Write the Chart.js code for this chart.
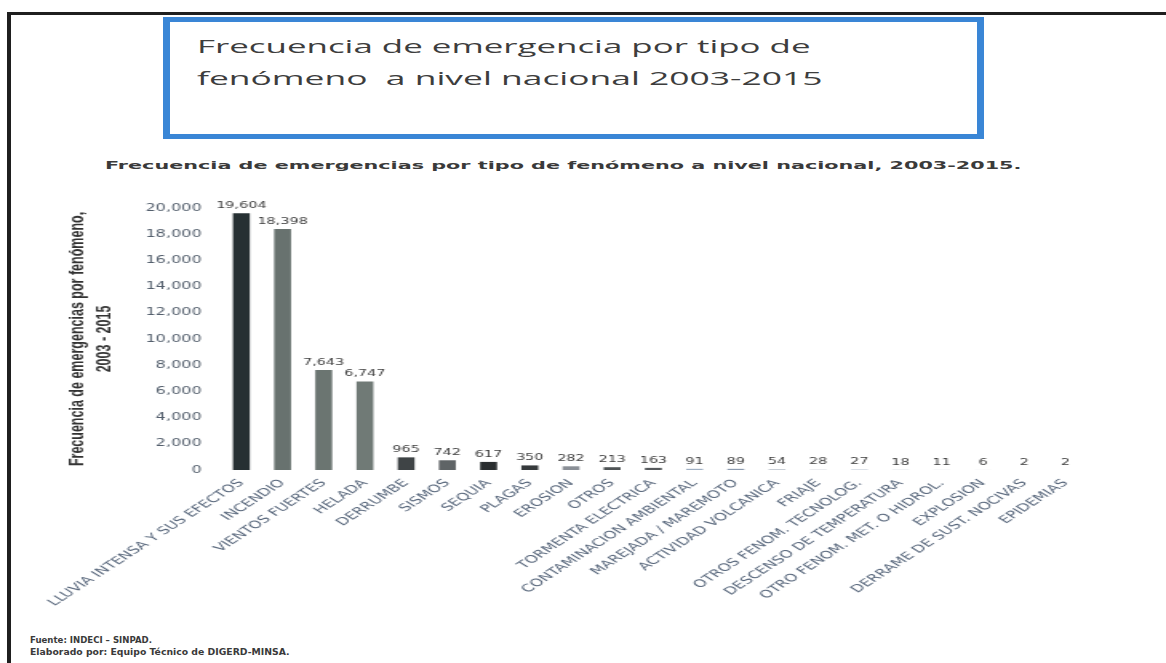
<!DOCTYPE html>
<html>
<head>
<meta charset="utf-8">
<script src="https://cdn.jsdelivr.net/npm/chart.js@4.4.1/dist/chart.umd.min.js"></script>
<style>
html,body{margin:0;padding:0;background:#fff;width:1166px;height:663px;overflow:hidden;position:relative}
#frameTop{position:absolute;left:7px;top:12px;width:1159px;height:3px;background:#1f1f1f}
#frameLeft{position:absolute;left:7px;top:12px;width:4px;height:651px;background:#1f1f1f}
#box{position:absolute;left:163px;top:17px;width:807px;height:112px;border-style:solid;border-color:#3a86d6;border-width:5px 7px}
.txt{position:absolute;left:0;top:0;white-space:nowrap;line-height:1;transform-origin:0 0}
#t1,#t2{font-family:"Open Sans";font-size:19px;color:#3d3d3d}
#sub{font-family:"DejaVu Sans";font-weight:bold;font-size:11px;color:#3a3a3a}
#f1,#f2{font-family:"DejaVu Sans";font-weight:bold;font-size:9px;color:#3a3a3a}
#wrap{position:absolute;left:0;top:0;width:729px;height:663px;transform-origin:0 0}
</style>
</head>
<body>
<div id="frameTop"></div>
<div id="frameLeft"></div>
<div id="box"></div>
<div class="txt" id="t1">Frecuencia de emergencia por tipo de</div>
<div class="txt" id="t2">fenómeno&nbsp; a nivel nacional 2003-2015</div>
<div class="txt" id="sub">Frecuencia de emergencias por tipo de fenómeno a nivel nacional, 2003-2015.</div>
<div class="txt" id="f1">Fuente: INDECI – SINPAD.</div>
<div class="txt" id="f2">Elaborado por: Equipo Técnico de DIGERD-MINSA.</div>
<div id="wrap"><canvas id="c" width="729" height="663"></canvas></div>
<script>
// ---- data ----
const categories = [
  'LLUVIA INTENSA Y SUS EFECTOS', 'INCENDIO', 'VIENTOS FUERTES', 'HELADA', 'DERRUMBE',
  'SISMOS', 'SEQUIA', 'PLAGAS', 'EROSION', 'OTROS', 'TORMENTA ELECTRICA',
  'CONTAMINACION AMBIENTAL', 'MAREJADA / MAREMOTO', 'ACTIVIDAD VOLCANICA', 'FRIAJE',
  'OTROS FENOM. TECNOLOG.', 'DESCENSO DE TEMPERATURA', 'OTRO FENOM. MET. O HIDROL.',
  'EXPLOSION', 'DERRAME DE SUST. NOCIVAS', 'EPIDEMIAS'
];
const emergencias = [19604, 18398, 7643, 6747, 965, 742, 617, 350, 282, 213, 163, 91, 89, 54, 28, 27, 18, 11, 6, 2, 2];
const yAxisTitle = ['Frecuencia de emergencias por fenómeno,', '2003 - 2015'];
const yMin = 0, yMax = 20000, yStep = 2000;
const barColors = ['#263033','#68726f','#6b7571','#707a76','#3f4446','#5f6466','#2a2e30','#363a3c',
  '#8a8f96','#4f5456','#55595c','#9fb0c4','#8c9bb0','#b0b8c4','#c8ccd2','#9aa8bc','#c0c6ce',
  '#c6ccd4','#c6ccd4','#a8b2c0','#c0c6ce'];

// ---- layout helpers for html text ----
const S = 1166 / 729;
document.getElementById('wrap').style.transform = 'scaleX(' + S + ')';
function place(id, x, baseline, width) {
  const el = document.getElementById(id);
  const probe = document.createElement('span');
  probe.style.cssText = 'display:inline-block;width:0;height:0;vertical-align:baseline';
  el.appendChild(probe);
  const b = probe.offsetTop;
  const w = el.offsetWidth;
  el.style.left = x + 'px';
  el.style.top = (baseline - b) + 'px';
  el.style.transform = 'scaleX(' + (width / w) + ')';
}

function draw() {
  place('t1', 197, 53, 613);
  place('t2', 197, 85, 626);
  place('sub', 105, 169, 916);
  place('f1', 30, 643, 122);
  place('f2', 30, 655, 260);

  const valueLabels = {
    id: 'valueLabels',
    afterDatasetsDraw(chart) {
      const ctx = chart.ctx;
      const meta = chart.getDatasetMeta(0);
      ctx.save();
      ctx.font = '9px "DejaVu Sans"';
      ctx.fillStyle = '#404040';
      ctx.textAlign = 'center';
      ctx.textBaseline = 'bottom';
      meta.data.forEach((bar, i) => {
        ctx.fillText(emergencias[i].toLocaleString('en-US'), bar.x, bar.y - 3);
      });
      ctx.restore();
    }
  };

  new Chart(document.getElementById('c'), {
    type: 'bar',
    data: {
      labels: categories,
      datasets: [{
        data: emergencias,
        backgroundColor: barColors,
        barPercentage: 0.41,
        categoryPercentage: 1
      }]
    },
    options: {
      responsive: false,
      animation: false,
      events: [],
      layout: { padding: { left: 30, right: 50, top: 208, bottom: 0 } },
      plugins: { legend: { display: false }, tooltip: { enabled: false } },
      scales: {
        x: {
          grid: { display: false, drawTicks: false },
          border: { display: false },
          ticks: {
            autoSkip: false, minRotation: 46, maxRotation: 46, padding: 7,
            color: '#56657a', font: { family: 'DejaVu Sans', size: 10.5 }
          },
          afterFit(s) { s.height = 193; }
        },
        y: {
          min: yMin, max: yMax,
          grid: { display: false, drawTicks: false },
          border: { display: false },
          ticks: {
            stepSize: yStep, padding: 12, color: '#55606e',
            font: { family: 'DejaVu Sans', size: 10 },
            callback: v => Number(v).toLocaleString('en-US')
          },
          title: {
            display: true, text: yAxisTitle, color: '#333333',
            font: { family: 'Liberation Sans', weight: 'bold', size: 12.5, lineHeight: 1.4 },
            padding: { top: 9.4, bottom: 0 }
          },
          afterFit(s) { s.width = 108; }
        }
      }
    },
    plugins: [valueLabels]
  });
}
if (document.fonts && document.fonts.ready) { document.fonts.ready.then(draw); } else { draw(); }
</script>
</body>
</html>
